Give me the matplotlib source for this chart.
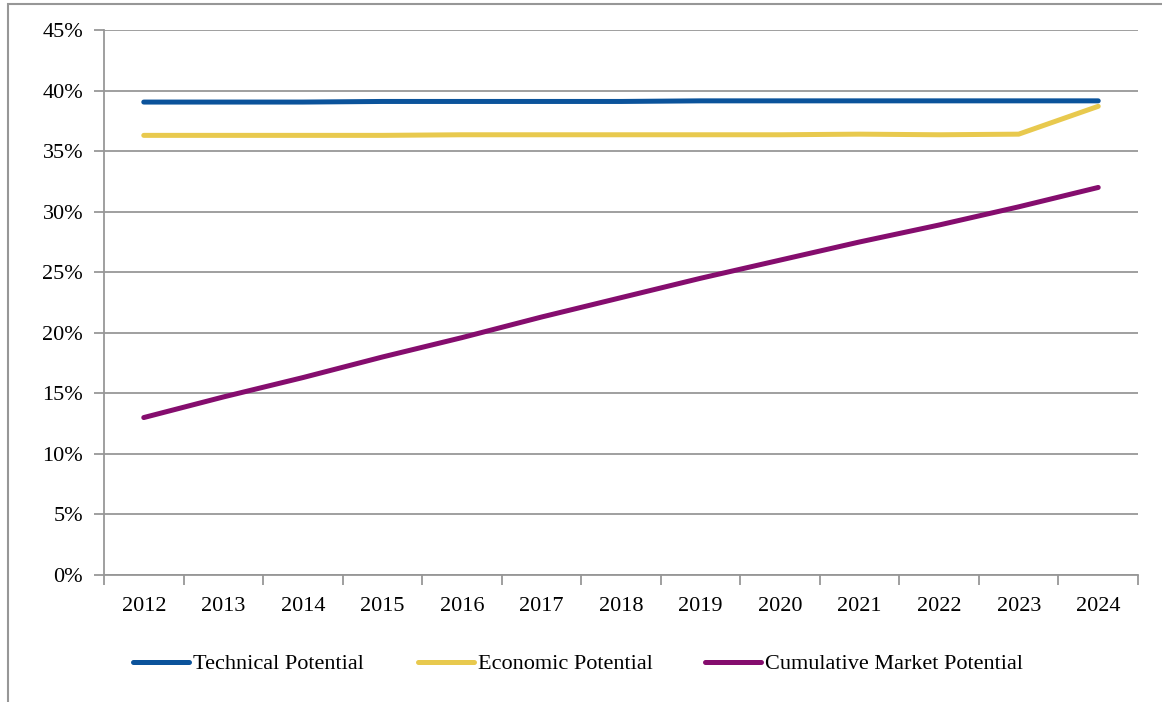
import matplotlib.pyplot as plt
from matplotlib.patches import Rectangle
from matplotlib.ticker import FuncFormatter

# data (percent)
years = ["2012", "2013", "2014", "2015", "2016", "2017", "2018",
         "2019", "2020", "2021", "2022", "2023", "2024"]
technical = [39.05, 39.05, 39.05, 39.1, 39.1, 39.1, 39.1,
             39.15, 39.15, 39.15, 39.15, 39.15, 39.15]
economic = [36.3, 36.3, 36.3, 36.3, 36.35, 36.35, 36.35,
            36.35, 36.35, 36.4, 36.35, 36.4, 38.7]
cumulative = [13.0, 14.7, 16.3, 18.0, 19.6, 21.3, 22.9,
              24.5, 26.0, 27.5, 28.9, 30.4, 32.0]

names = ["Technical Potential", "Economic Potential", "Cumulative Market Potential"]
colors = ["#0B539B", "#E8C94E", "#850D6E"]

plt.rcParams['font.family'] = ['Liberation Serif', 'DejaVu Serif']
grey = "#979797"

fig = plt.figure(figsize=(11.62, 7.02), dpi=100)
ax = fig.add_axes([104/1162, 1-575/702, (1138-104)/1162, (575-30)/702])

x = list(range(len(years)))
lines = []
for vals, c in zip([technical, economic, cumulative], colors):
    ln, = ax.plot(x, vals, color=c, lw=3.6, solid_capstyle='round',
                  solid_joinstyle='round', zorder=3)
    lines.append(ln)

ax.set_xlim(-0.5, len(years) - 0.5)
ax.set_ylim(0, 45)
ax.set_yticks(range(0, 46, 5))
ax.yaxis.set_major_formatter(FuncFormatter(lambda v, p: f"{v:.0f}%"))
ax.yaxis.grid(True, color=grey, lw=1.3)
ax.set_axisbelow(True)

# category ticks between labels
ax.set_xticks([i - 0.5 for i in range(len(years) + 1)])
ax.set_xticklabels([])
ax.set_xticks(x, minor=True)
ax.set_xticklabels(years, minor=True)
ax.tick_params(axis='x', which='major', length=7, width=1.3, color=grey)
ax.tick_params(axis='x', which='minor', length=0, pad=16, labelsize=16)
ax.tick_params(axis='y', length=7, width=1.3, color=grey, pad=8, labelsize=16)

for s in ['top', 'right']:
    ax.spines[s].set_visible(False)
for s in ['left', 'bottom']:
    ax.spines[s].set_color(grey)
    ax.spines[s].set_linewidth(1.3)

# legend entries placed like the original
leg_x = [133, 418, 705]
for ln, name, lx in zip(lines, names, leg_x):
    lg = fig.legend([ln], [name], loc='center left',
                    bbox_to_anchor=(lx/1162, 1-664/702), frameon=False,
                    fontsize=16, handlelength=2.5, handletextpad=0.2,
                    borderaxespad=0, borderpad=0)

# outer border of the chart area
fig.add_artist(Rectangle((7.5/1162, -0.05), 1.1, 1.05 - 3.5/702,
                         transform=fig.transFigure, fill=False,
                         edgecolor=grey, lw=1.5))

fig.savefig("out.png", dpi=100)
